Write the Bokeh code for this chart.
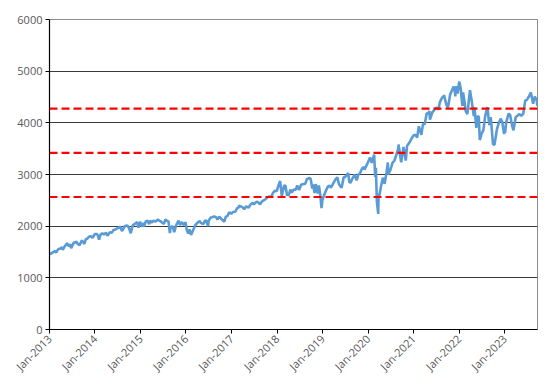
import math
import pandas as pd
from bokeh.plotting import figure
from bokeh.models import FixedTicker, DatetimeTickFormatter, Span, ColumnDataSource, Range1d
from bokeh.embed import file_html
from bokeh.resources import INLINE

# S&P 500 level, (month-day, value) per year
sp2013 = [("01-02",1462),("01-15",1472),("01-31",1498),("02-15",1520),("02-25",1488),("02-28",1515),("03-15",1560),("03-31",1569),("04-11",1593),("04-18",1541),("04-30",1598),("05-21",1669),("05-31",1631),("06-05",1608),("06-18",1651),("06-24",1573),("06-30",1606),("07-15",1682),("07-31",1686),("08-02",1709),("08-15",1661),("08-30",1633),("09-18",1725),("09-30",1682),("10-08",1655),("10-18",1745),("10-31",1757),("11-15",1798),("11-30",1806),("12-13",1775),("12-31",1848)]
sp2014 = [("01-15",1848),("01-23",1828),("02-03",1741),("02-14",1838),("02-28",1859),("03-14",1841),("03-31",1872),("04-11",1815),("04-30",1884),("05-15",1870),("05-30",1924),("06-15",1937),("06-30",1960),("07-24",1988),("07-31",1931),("08-07",1909),("08-29",2003),("09-18",2011),("09-30",1972),("10-15",1862),("10-31",2018),("11-14",2039),("11-28",2068),("12-05",2075),("12-16",1972),("12-29",2091),("12-31",2059)]
sp2015 = [("01-15",1992),("01-22",2063),("01-30",1995),("02-13",2096),("02-27",2105),("03-11",2040),("03-20",2108),("03-31",2068),("04-15",2106),("04-30",2086),("05-21",2131),("05-29",2107),("06-12",2094),("06-29",2058),("07-08",2046),("07-20",2128),("07-31",2104),("08-14",2092),("08-25",1868),("08-31",1972),("09-16",2000),("09-29",1884),("10-15",2023),("11-03",2110),("11-13",2023),("11-30",2080),("12-14",2021),("12-29",2078),("12-31",2044)]
sp2016 = [("01-08",1922),("01-20",1859),("01-29",1940),("02-11",1829),("02-29",1932),("03-15",2015),("03-31",2060),("04-20",2102),("04-29",2065),("05-19",2040),("05-31",2097),("06-08",2119),("06-27",2001),("06-30",2099),("07-15",2162),("07-29",2174),("08-15",2190),("08-31",2171),("09-09",2128),("09-22",2177),("09-30",2168),("10-14",2133),("11-04",2085),("11-15",2180),("11-30",2199),("12-13",2271),("12-30",2239)]
sp2017 = [("01-13",2275),("01-31",2279),("02-15",2349),("02-28",2364),("03-01",2396),("03-15",2385),("03-31",2363),("04-13",2329),("04-28",2384),("05-17",2357),("05-31",2412),("06-19",2453),("06-30",2423),("07-14",2459),("07-27",2475),("08-18",2425),("08-31",2472),("09-15",2500),("09-29",2519),("10-16",2557),("10-31",2575),("11-15",2565),("11-30",2648),("12-18",2690),("12-29",2674)]
sp2018 = [("01-12",2786),("01-26",2873),("02-08",2581),("02-26",2780),("03-09",2786),("03-23",2588),("03-29",2641),("04-02",2582),("04-18",2708),("04-30",2648),("05-15",2711),("05-31",2705),("06-12",2787),("06-27",2699),("07-13",2801),("07-31",2816),("08-15",2818),("08-29",2914),("09-20",2931),("09-28",2914),("10-11",2728),("10-17",2809),("10-29",2641),("11-07",2814),("11-23",2633),("12-03",2790),("12-14",2600),("12-24",2351),("12-31",2507)]
sp2019 = [("01-15",2610),("01-31",2704),("02-15",2775),("02-28",2784),("03-08",2743),("03-22",2800),("03-29",2834),("04-15",2905),("04-30",2946),("05-13",2812),("05-31",2752),("06-03",2744),("06-20",2954),("06-28",2942),("07-26",3026),("08-05",2844),("08-15",2847),("08-30",2926),("09-16",2998),("10-02",2887),("10-15",2995),("10-31",3038),("11-15",3120),("11-29",3141),("12-03",3093),("12-31",3231)]
sp2020 = [("01-17",3330),("01-31",3226),("02-19",3386),("02-28",2954),("03-04",3130),("03-12",2481),("03-16",2386),("03-23",2237),("03-26",2630),("03-31",2585),("04-15",2783),("04-29",2939),("05-13",2820),("05-29",3044),("06-08",3232),("06-11",3002),("06-30",3100),("07-15",3227),("07-31",3271),("08-14",3373),("08-31",3500),("09-02",3580),("09-23",3237),("10-12",3535),("10-30",3270),("11-09",3550),("11-30",3622),("12-15",3694),("12-31",3756)]
sp2021 = [("01-15",3768),("01-29",3714),("02-12",3934),("03-04",3768),("03-17",3975),("03-31",3973),("04-16",4185),("04-30",4181),("05-07",4232),("05-12",4063),("05-31",4204),("06-15",4246),("06-30",4298),("07-19",4258),("07-30",4395),("08-16",4480),("08-31",4523),("09-02",4537),("09-20",4358),("09-30",4308),("10-04",4300),("10-21",4549),("11-18",4704),("11-30",4567),("12-01",4513),("12-10",4712),("12-20",4568),("12-31",4766)]
sp2022 = [("01-03",4797),("01-14",4662),("01-27",4326),("02-02",4589),("02-14",4401),("02-23",4225),("03-08",4170),("03-29",4632),("04-14",4392),("04-29",4132),("05-04",4300),("05-19",3901),("05-31",4132),("06-08",4115),("06-16",3667),("06-30",3785),("07-15",3863),("07-29",4130),("08-16",4305),("08-31",3955),("09-12",4110),("09-30",3586),("10-12",3577),("10-31",3872),("11-15",3992),("11-30",4080),("12-13",4020),("12-28",3783),("12-30",3840)]
sp2023 = [("01-05",3808),("01-13",3999),("02-02",4180),("02-15",4147),("02-28",3970),("03-13",3855),("03-31",4109),("04-14",4137),("04-28",4169),("05-15",4136),("05-31",4180),("06-15",4425),("06-30",4450),("07-14",4505),("07-31",4589),("08-18",4370),("08-31",4508),("09-15",4450),("09-21",4330)]

years = {2013: sp2013, 2014: sp2014, 2015: sp2015, 2016: sp2016, 2017: sp2017, 2018: sp2018,
         2019: sp2019, 2020: sp2020, 2021: sp2021, 2022: sp2022, 2023: sp2023}

# horizontal reference levels (red dashed)
levels = [4275, 3420, 2565]

tick_years = list(range(2013, 2024))
y_ticks = [0, 1000, 2000, 3000, 4000, 5000, 6000]

dates, vals = [], []
for y, rows in years.items():
    for md, v in rows:
        dates.append(pd.Timestamp(f"{y}-{md}"))
        vals.append(v)
src = ColumnDataSource(dict(x=dates, y=vals))

p = figure(width=543, height=381, x_axis_type="datetime", output_backend="svg",
           toolbar_location=None, min_border_left=49, min_border_right=6,
           min_border_top=19, min_border_bottom=52)
p.x_range = Range1d(pd.Timestamp("2013-01-01"), pd.Timestamp("2023-09-22"))
p.y_range = Range1d(0, 6000)

p.line("x", "y", source=src, line_color="#5b9bd5", line_width=2.6)

for lv in levels:
    p.add_layout(Span(location=lv, dimension="width", line_color="#ff0000",
                      line_width=2.2, line_dash="8 4"))

p.xgrid.grid_line_color = None
p.ygrid.grid_line_color = "#3a3a3a"
p.ygrid.grid_line_width = 1
p.outline_line_color = "#8c8c8c"
p.background_fill_color = "white"
p.border_fill_color = "white"

xt = [pd.Timestamp(f"{y}-01-01").value / 1e6 for y in tick_years]
p.xaxis.ticker = FixedTicker(ticks=xt)
fmt = "%b-%Y"
p.xaxis.formatter = DatetimeTickFormatter(years=fmt, months=fmt, days=fmt, hours=fmt,
                                          minutes=fmt, seconds=fmt, milliseconds=fmt,
                                          microseconds=fmt)
p.xaxis.major_label_orientation = math.pi / 4
p.yaxis.ticker = FixedTicker(ticks=y_ticks)

for ax in (p.xaxis, p.yaxis):
    ax.axis_line_color = "black"
    ax.axis_line_width = 1.2
    ax.major_tick_line_color = "black"
    ax.major_tick_out = 4
    ax.major_tick_in = 0
    ax.minor_tick_line_color = None
    ax.major_label_text_font = "Open Sans"
    ax.major_label_text_font_size = "11px"
    ax.major_label_text_color = "#595959"
    ax.major_label_standoff = 3

open("out.html", "w").write(file_html(p, INLINE))
